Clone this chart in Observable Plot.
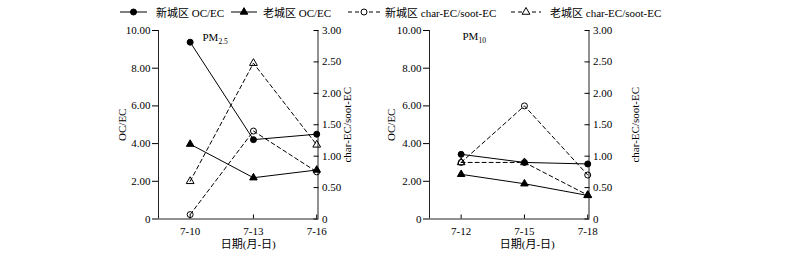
<!DOCTYPE html>
<html><head><meta charset="utf-8">
<script src="https://cdn.jsdelivr.net/npm/d3@7"></script>
<script src="https://cdn.jsdelivr.net/npm/@observablehq/plot@0.6"></script>
<style>
body{margin:0;background:#fff;}
#wrap{position:relative;width:800px;height:255px;font-family:"Liberation Serif","Times New Roman","Noto Sans CJK SC",serif;color:#000;}
#legend{position:absolute;left:0;top:0;width:800px;height:22px;}
.li{position:absolute;top:4px;height:16px;display:flex;align-items:center;font-size:11px;white-space:nowrap}
.li svg{display:block}
.panel{position:absolute;top:22px;}
</style></head><body>
<div id="wrap"><div id="legend"></div><div id="p1" class="panel" style="left:0"></div><div id="p2" class="panel" style="left:271px"></div></div>
<script>
// ---- data ----
const seriesNames = ["新城区 OC/EC", "老城区 OC/EC", "新城区 char-EC/soot-EC", "老城区 char-EC/soot-EC"];
const datesPM25 = ["7-10", "7-13", "7-16"];
const datesPM10 = ["7-12", "7-15", "7-18"];
const pm25NewOCEC = [9.38, 4.21, 4.50];
const pm25OldOCEC = [3.97, 2.19, 2.60];
const pm25NewChar = [0.07, 1.40, 0.75];
const pm25OldChar = [0.60, 2.48, 1.18];
const pm10NewOCEC = [3.43, 3.00, 2.92];
const pm10OldOCEC = [2.37, 1.87, 1.25];
const pm10NewChar = [0.90, 1.80, 0.70];
const pm10OldChar = [0.90, 0.90, 0.38];
const leftTicks = [0, 2, 4, 6, 8, 10];
const rightTicks = [0, 0.5, 1, 1.5, 2, 2.5, 3];
const yLeftLabel = "OC/EC";
const yRightLabel = "char-EC/soot-EC";
const xLabel = "日期(月-日)";

const FONT = '"Liberation Serif","Times New Roman","Noto Sans CJK SC",serif';
const FS = 11;
const K = 10 / 3; // right axis (0–3) to left axis (0–10)
const xDomain = [-0.5, 2.02];
const fmt2 = d3.format(".2f");
const fmtL = d => d === 0 ? "0" : fmt2(d);
const fmtR = d => Math.abs(d) < 1e-9 ? "0" : fmt2(d);

// styles per series
const styles = [
  {dash: null, symbol: "circle", fill: "#000", r: 3},
  {dash: null, symbol: "triangle", fill: "#000", r: 2.8},
  {dash: "4,3", symbol: "circle", fill: "none", r: 3},
  {dash: "4,3", symbol: "triangle", fill: "none", r: 2.9}
];

// ---- legend ----
const legendPos = [{x: 120, w: 27, gap: 9}, {x: 231, w: 26, gap: 6}, {x: 348, w: 32, gap: 5}, {x: 511, w: 30, gap: 9}];
const legend = d3.select("#legend");
seriesNames.forEach((name, i) => {
  const p = legendPos[i], s = styles[i];
  const item = legend.append("div").attr("class", "li").style("left", p.x + "px");
  const svg = item.append("svg").attr("width", p.w).attr("height", 12);
  svg.append("line").attr("x1", 0).attr("x2", p.w).attr("y1", 6).attr("y2", 6)
    .attr("stroke", "#000").attr("stroke-width", 1).attr("stroke-dasharray", s.dash);
  svg.append("path").attr("transform", `translate(${p.w / 2},6)`)
    .attr("d", d3.symbol(s.symbol === "circle" ? d3.symbolCircle : d3.symbolTriangle, s.r * s.r * Math.PI)())
    .attr("fill", s.fill === "none" ? "#fff" : s.fill).attr("stroke", "#000").attr("stroke-width", 1);
  item.append("span").style("margin-left", p.gap + "px").text(name);
});

// ---- panels ----
function panel(dates, ocNew, ocOld, chNew, chOld, title, sub, o) {
  const rows = (vals, scale) => vals.map((v, i) => ({i, v, y: v * scale}));
  const sets = [rows(ocNew, 1), rows(ocOld, 1), rows(chNew, K), rows(chOld, K)];
  const marks = [
    Plot.ruleX(xDomain, {stroke: "#222", strokeWidth: 1}),
    Plot.ruleY([0], {stroke: "#222", strokeWidth: 1}),
    Plot.axisY(leftTicks, {anchor: "left", tickSize: 6, tickPadding: 2, tickFormat: fmtL, label: null, fontSize: FS}),
    Plot.axisY(rightTicks.map(t => t * K), {anchor: "right", tickSize: -5, tickPadding: 9, tickFormat: d => fmtR(d / K), label: null, fontSize: FS}),
    Plot.axisX(dates.map((d, i) => i), {anchor: "bottom", tickSize: -4, tickPadding: 12, tickFormat: i => dates[i], label: null, fontSize: FS}),
  ];
  sets.forEach((data, k) => {
    const s = styles[k];
    marks.push(Plot.line(data, {x: "i", y: "y", stroke: "#000", strokeWidth: 1, strokeDasharray: s.dash}));
  });
  sets.forEach((data, k) => {
    const s = styles[k];
    marks.push(Plot.dot(data, {x: "i", y: "y", symbol: s.symbol, r: s.r, fill: s.fill, stroke: "#000", strokeWidth: 1}));
  });
  marks.push(
    Plot.text([yLeftLabel], {frameAnchor: "left", rotate: -90, dx: o.leftDx, textAnchor: "middle", lineAnchor: "middle", fontSize: FS}),
    Plot.text([yRightLabel], {frameAnchor: "right", rotate: -90, dx: o.rightDx, textAnchor: "middle", lineAnchor: "middle", fontSize: FS}),
    Plot.text([xLabel], {frameAnchor: "bottom", dx: o.xDx, dy: 25.5, textAnchor: "middle", lineAnchor: "middle", fontSize: FS}),
    Plot.text([title + sub], {frameAnchor: "top-left", dx: o.tDx, dy: o.tDy, textAnchor: "start", lineAnchor: "middle", fontSize: FS})
  );
  const chart = Plot.plot({
    width: 400, height: 233,
    marginLeft: 158, marginRight: 82.5, marginTop: 8, marginBottom: 36.5,
    style: {fontFamily: FONT, fontSize: FS + "px", color: "#000", background: "transparent", overflow: "visible"},
    x: {domain: xDomain},
    y: {domain: [0, 10]},
    marks
  });
  d3.select(chart).selectAll("text").filter(function () { return this.textContent === title + sub; })
    .each(function () {
      const t = d3.select(this);
      t.text(null);
      t.append("tspan").text(title);
      t.append("tspan").attr("font-size", 7.5).attr("dy", 3).text(sub);
    });
  return chart;
}

document.getElementById("p1").append(panel(datesPM25, pm25NewOCEC, pm25OldOCEC, pm25NewChar, pm25OldChar, "PM", "2.5",
  {leftDx: -36, rightDx: 29, xDx: 10, tDx: 44, tDy: 7}));
document.getElementById("p2").append(panel(datesPM10, pm10NewOCEC, pm10OldOCEC, pm10NewChar, pm10OldChar, "PM", "10",
  {leftDx: -38, rightDx: 46, xDx: 18, tDx: 33, tDy: 6}));
</script>
</body></html>
